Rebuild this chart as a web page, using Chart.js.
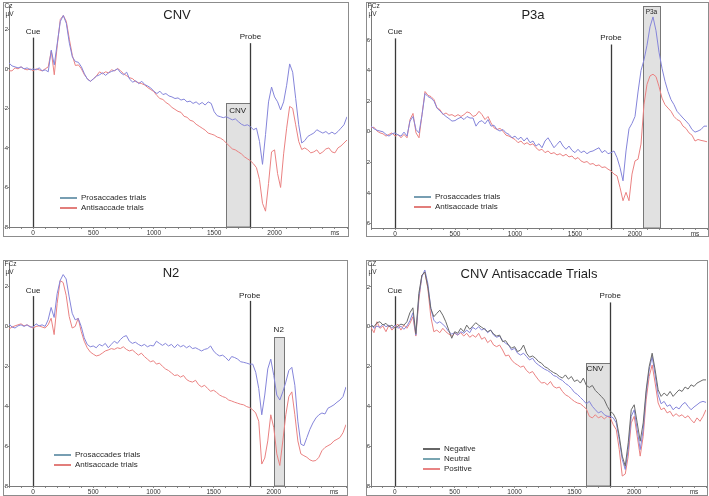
<!DOCTYPE html>
<html>
<head>
<meta charset="utf-8">
<script src="https://cdn.jsdelivr.net/npm/chart.js@4.4.1/dist/chart.umd.min.js"></script>
<style>
  body { margin: 0; background: #fff; width: 709px; height: 496px; position: relative; overflow: hidden; }
  canvas { position: absolute; }
</style>
</head>
<body>
<canvas id="cnvChart" width="346" height="235" style="left:3px;top:2px"></canvas>
<canvas id="p3aChart" width="343" height="235" style="left:366px;top:2px"></canvas>
<canvas id="n2Chart" width="345" height="236" style="left:3px;top:260px"></canvas>
<canvas id="antiChart" width="342" height="236" style="left:366px;top:260px"></canvas>
<script>
// time points (ms), shared by all four panels
const times = [
  -200, -175, -150, -125, -100, -75, -50, -25,
  0, 25, 50, 75, 100, 125, 150, 175,
  200, 225, 250, 275, 300, 325, 350, 375,
  400, 425, 450, 475, 500, 525, 550, 575,
  600, 625, 650, 675, 700, 725, 750, 775,
  800, 825, 850, 875, 900, 925, 950, 975,
  1000, 1025, 1050, 1075, 1100, 1125, 1150, 1175,
  1200, 1225, 1250, 1275, 1300, 1325, 1350, 1375,
  1400, 1425, 1450, 1475, 1500, 1525, 1550, 1575,
  1600, 1625, 1650, 1675, 1700, 1725, 1750, 1775,
  1800, 1825, 1850, 1875, 1900, 1925, 1950, 1975,
  2000, 2025, 2050, 2075, 2100, 2125, 2150, 2175,
  2200, 2225, 2250, 2275, 2300, 2325, 2350, 2375,
  2400, 2425, 2450, 2475, 2500, 2525, 2550, 2575,
  2600
];

// CNV panel (Cz)
const cnvPro = [
  0.3, 0.15, 0.1, 0.05, 0.1, 0.0, 0.05, -0.05,
  0.0, -0.05, 0.05, -0.1, -0.05, -0.15, 0.95, 0.2,
  1.3, 2.4, 2.7, 2.3, 1.3, 0.6, 0.37, 0.33,
  0.1, -0.25, -0.53, -0.63, -0.5, -0.37, -0.3, -0.2,
  -0.33, -0.2, -0.13, -0.08, 0.0, -0.2, -0.3, -0.17,
  -0.53, -0.67, -0.6, -0.75, -0.63, -0.8, -0.87, -0.97,
  -1.13, -1.25, -1.13, -1.3, -1.25, -1.37, -1.42, -1.5,
  -1.47, -1.58, -1.53, -1.67, -1.63, -1.75, -1.67, -1.8,
  -1.7, -1.83, -1.67, -1.75, -2.17, -2.37, -2.42, -2.47,
  -2.42, -2.5, -2.58, -2.53, -2.67, -2.8, -2.87, -2.83,
  -2.92, -3.08, -3.0, -3.67, -4.83, -3.33, -1.67, -0.92,
  -1.42, -1.67, -2.08, -1.67, -0.83, 0.25, -0.17, -1.5,
  -2.83, -3.75, -3.63, -3.42, -3.33, -3.25, -3.08, -3.17,
  -3.25, -3.17, -3.3, -3.2, -3.3, -3.17, -3.0, -2.83,
  -2.42
];
const cnvAnti = [
  -0.1, -0.1, 0.05, 0.0, 0.1, 0.0, -0.05, 0.0,
  -0.1, 0.0, -0.05, -0.1, 0.0, 0.1, 0.9, -0.3,
  1.2, 2.5, 2.7, 2.4, 1.5, 0.67, 0.17, 0.2,
  0.0, -0.3, -0.5, -0.63, -0.5, -0.35, -0.15, -0.25,
  -0.15, -0.2, -0.05, -0.1, 0.02, -0.1, -0.25, -0.35,
  -0.45, -0.5, -0.65, -0.7, -0.75, -0.82, -0.95, -1.05,
  -1.15, -1.35, -1.5, -1.55, -1.7, -1.8, -1.95, -2.05,
  -2.15, -2.2, -2.4, -2.45, -2.6, -2.65, -2.8, -2.9,
  -3.0, -3.1, -3.25, -3.3, -3.35, -3.45, -3.5, -3.6,
  -3.75, -3.9, -4.05, -4.1, -4.2, -4.3, -4.45, -4.55,
  -4.65, -4.8, -5.0, -5.6, -6.8, -7.2, -5.8, -4.2,
  -4.1, -5.3, -6.0, -4.3, -3.0, -1.9, -2.0, -2.83,
  -3.67, -4.08, -4.0, -4.1, -4.25, -4.2, -4.1, -4.3,
  -4.2, -4.05, -4.0, -4.2, -4.25, -4.0, -3.9, -3.75,
  -3.6
];

// P3a panel (PCz)
const p3aPro = [
  0.37, 0.2, 0.1, 0.05, 0.0, -0.17, -0.28, -0.13,
  -0.07, -0.2, -0.28, -0.02, -0.28, 0.7, 1.0, 0.15,
  -0.07, 1.1, 2.5, 2.3, 2.2, 2.0, 1.55, 1.35,
  1.17, 1.0, 0.86, 0.7, 0.73, 0.86, 0.95, 0.8,
  1.0, 0.9, 0.9, 0.37, 0.65, 0.73, 0.52, 0.8,
  0.37, 0.43, 0.15, 0.05, 0.15, -0.07, -0.17, -0.39,
  -0.28, -0.5, -0.35, -0.6, -0.39, -0.71, -0.6, -0.93,
  -0.78, -1.04, -0.6, -0.39, -0.71, -1.04, -0.82, -0.6,
  -0.93, -1.14, -0.93, -1.21, -1.36, -1.14, -1.36, -1.25,
  -1.43, -1.3, -1.25, -1.14, -1.04, -1.36, -1.21, -1.43,
  -1.36, -1.25, -1.68, -2.33, -3.2, -1.25, 0.2, 0.55,
  1.0, 2.6, 4.0, 4.7, 5.65, 6.85, 7.5, 6.6,
  5.2, 4.15, 3.3, 2.63, 2.1, 1.77, 1.34, 1.12,
  0.9, 0.7, 0.48, 0.15, -0.02, 0.05, 0.15, 0.37,
  0.37
];
const p3aAnti = [
  0.26, 0.3, 0.05, -0.07, -0.13, -0.28, -0.17, -0.07,
  -0.28, -0.17, -0.39, -0.17, -0.39, 0.8, 1.2, -0.07,
  -0.39, 1.12, 2.63, 2.38, 2.3, 2.1, 1.55, 1.45,
  1.12, 1.23, 1.08, 1.12, 1.0, 1.12, 1.0, 1.12,
  1.3, 1.23, 1.0, 1.08, 1.34, 1.12, 0.8, 1.0,
  0.58, 0.26, 0.15, 0.22, 0.04, -0.22, -0.28, -0.39,
  -0.5, -0.71, -0.6, -0.82, -0.71, -0.86, -0.78, -1.04,
  -1.21, -1.14, -1.36, -1.25, -1.43, -1.36, -1.51, -1.43,
  -1.58, -1.47, -1.64, -1.58, -1.79, -1.68, -1.9, -2.0,
  -1.94, -2.12, -2.07, -2.22, -2.16, -2.33, -2.29, -2.44,
  -2.55, -2.76, -2.87, -3.63, -4.5, -3.95, -4.5, -2.76,
  -1.9, -1.79, -0.8, 1.8, 3.1, 3.65, 3.76, 3.6,
  2.96, 2.2, 1.77, 1.55, 1.34, 1.0, 0.8, 0.7,
  0.37, 0.22, -0.07, -0.22, -0.6, -0.5, -0.56, -0.6,
  -0.65
];

// N2 panel (FCz)
const n2Pro = [
  0.13, -0.03, -0.08, 0.03, 0.08, 0.0, 0.08, -0.03,
  -0.03, 0.13, 0.03, 0.08, 0.0, 0.33, 0.95, 0.45,
  1.64, 2.3, 2.6, 2.38, 1.48, 0.66, 0.33, 0.4,
  0.0, -0.57, -0.9, -1.02, -0.98, -1.07, -0.9, -0.98,
  -0.85, -1.07, -0.9, -0.74, -0.85, -0.66, -0.52, -0.46,
  -0.74, -0.85, -0.79, -0.9, -0.98, -0.9, -1.02, -0.95,
  -0.98, -0.74, -0.85, -0.95, -0.85, -0.98, -0.9, -1.07,
  -0.9, -1.02, -0.95, -1.07, -0.98, -1.11, -1.07, -1.15,
  -1.23, -1.15, -1.11, -0.98, -1.23, -1.39, -1.48, -1.44,
  -1.56, -1.72, -1.51, -1.56, -1.64, -1.77, -1.8, -1.84,
  -1.89, -1.89, -2.3, -3.11, -4.43, -3.44, -2.13, -1.64,
  -2.46, -3.44, -3.69, -3.28, -2.79, -2.21, -2.05, -2.95,
  -4.75, -5.9, -5.98, -5.57, -5.16, -4.84, -4.59, -4.43,
  -4.34, -4.39, -4.1, -4.02, -3.93, -3.8, -3.69, -3.52,
  -3.03
];
const n2Anti = [
  -0.13, -0.03, 0.03, 0.08, 0.13, 0.03, 0.08, 0.0,
  -0.08, 0.0, 0.03, -0.03, -0.08, 0.08, 0.41, -0.41,
  1.15, 2.3, 2.2, 1.56, 0.5, -0.08, 0.0, 0.41,
  -0.25, -0.74, -1.07, -1.28, -1.39, -1.48, -1.44, -1.34,
  -1.23, -1.18, -1.11, -1.15, -1.07, -1.11, -1.02, -1.15,
  -1.23, -1.18, -1.31, -1.44, -1.34, -1.51, -1.64, -1.77,
  -1.72, -1.89, -1.84, -2.0, -2.13, -2.21, -2.33, -2.46,
  -2.43, -2.54, -2.46, -2.66, -2.75, -2.79, -2.7, -2.92,
  -3.03, -2.95, -3.11, -3.25, -3.2, -3.31, -3.44, -3.52,
  -3.57, -3.69, -3.74, -3.8, -3.85, -3.9, -3.93, -4.02,
  -4.07, -4.18, -4.34, -4.75, -6.9, -6.6, -5.74, -4.43,
  -5.08, -6.39, -6.97, -5.74, -4.43, -3.52, -3.28, -4.43,
  -5.74, -6.39, -6.48, -6.56, -6.69, -6.75, -6.72, -6.56,
  -6.23, -6.07, -5.98, -5.9, -5.74, -5.66, -5.57, -5.33,
  -4.92
];

// CNV antisaccade trials panel (Cz), by valence
const antiNegative = [
  0.08, 0.0, 0.2, 0.25, 0.08, 0.17, 0.0, 0.08,
  -0.08, 0.03, 0.13, 0.08, 0.25, 0.7, 0.95, -0.35,
  1.67, 2.58, 2.75, 2.0, 0.92, 0.5, 0.67, 0.83,
  0.58, 0.25, -0.17, -0.58, -0.25, -0.33, -0.08, -0.25,
  0.08, -0.13, 0.03, 0.2, 0.08, -0.03, -0.13, -0.25,
  -0.17, -0.37, -0.47, -0.42, -0.75, -0.7, -0.92, -1.08,
  -1.0, -1.25, -1.17, -0.92, -1.33, -1.53, -1.47, -1.58,
  -1.75, -1.83, -2.0, -2.08, -2.2, -2.3, -2.37, -2.5,
  -2.58, -2.42, -2.63, -2.5, -2.75, -2.67, -2.83, -2.58,
  -2.95, -3.05, -2.95, -3.2, -3.35, -3.5, -3.67, -4.0,
  -4.25, -4.37, -4.67, -5.5, -6.5, -7.0, -5.83, -4.17,
  -3.92, -4.83, -5.75, -4.83, -3.17, -2.0, -1.33, -2.17,
  -3.17, -3.5, -3.33, -3.47, -3.25, -3.5, -3.33, -3.17,
  -3.25, -3.03, -3.13, -2.92, -3.0, -2.83, -2.75, -2.67,
  -2.67
];
const antiNeutral = [
  0.13, -0.08, 0.03, -0.03, 0.13, 0.0, 0.08, -0.08,
  0.08, -0.08, 0.03, -0.13, 0.03, 0.3, 0.7, -0.42,
  1.5, 2.5, 2.85, 2.17, 0.92, 0.33, 0.17, 0.25,
  0.13, -0.03, -0.25, -0.37, -0.3, -0.42, -0.25, -0.33,
  -0.17, -0.3, -0.03, -0.13, 0.0, -0.17, -0.08, -0.3,
  -0.17, -0.42, -0.53, -0.47, -0.7, -0.83, -0.92, -1.17,
  -1.08, -1.33, -1.42, -1.33, -1.5, -1.67, -1.58, -1.8,
  -1.92, -2.03, -2.13, -2.2, -2.3, -2.45, -2.5, -2.62,
  -2.7, -2.85, -2.95, -3.1, -3.3, -3.4, -3.55, -3.7,
  -3.87, -3.75, -4.0, -4.17, -4.33, -4.25, -4.42, -4.5,
  -4.5, -4.58, -4.83, -5.67, -6.67, -7.17, -6.17, -4.5,
  -4.17, -5.17, -6.17, -5.17, -3.33, -2.17, -1.5, -2.42,
  -3.42, -3.87, -3.75, -4.0, -3.92, -4.17, -4.03, -4.13,
  -3.92, -3.8, -4.0, -4.17, -4.03, -3.92, -3.8, -3.75,
  -3.8
];
const antiPositive = [
  -0.03, -0.3, 0.25, -0.08, 0.03, -0.25, 0.08, -0.17,
  0.0, 0.13, -0.17, 0.08, -0.08, 0.17, 0.5, -0.47,
  1.33, 2.58, 2.75, 1.92, 0.5, -0.25, -0.17, -0.3,
  -0.08, -0.25, -0.37, -0.47, -0.33, -0.42, -0.3, -0.47,
  -0.33, -0.53, -0.42, -0.53, -0.33, -0.63, -0.53, -0.8,
  -0.67, -0.92, -1.0, -0.92, -1.17, -1.47, -1.42, -1.67,
  -1.83, -1.92, -2.03, -1.97, -2.2, -2.33, -2.25, -2.47,
  -2.67, -2.83, -2.8, -2.92, -2.75, -3.0, -3.08, -3.03,
  -3.25, -3.42, -3.5, -3.63, -3.75, -3.83, -3.87, -4.0,
  -4.13, -4.5, -4.58, -4.42, -4.58, -4.5, -4.63, -4.5,
  -4.58, -4.92, -5.17, -6.17, -7.5, -7.4, -6.5, -4.83,
  -4.5, -5.5, -6.5, -5.5, -3.67, -2.5, -1.92, -2.83,
  -3.83, -4.17, -4.08, -4.33, -4.25, -4.5, -4.37, -4.5,
  -4.42, -4.58, -4.47, -4.67, -4.83, -4.58, -4.75, -4.5,
  -4.17
];

const FONT = '"Liberation Sans", Arial, sans-serif';
const BLUE = '#8585da';
const RED = '#ea8282';
const GRAY = '#6a6a6a';

/**
 * Draws the frame, Cue/Probe markers, the shaded window, title and in-plot legend
 */
const erpDecor = {
  id: 'erpDecor',
  beforeDatasetsDraw(chart, args, o) {
    const ctx = chart.ctx;
    const xs = chart.scales.x, ys = chart.scales.y;
    const area = chart.chartArea;
    ctx.save();
    if (o.box) {
      const x0 = Math.round(xs.getPixelForValue(o.box.from)) + 0.5;
      const x1 = Math.round(xs.getPixelForValue(o.box.to)) + 0.5;
      const yt = Math.round(o.box.top == null ? area.top : ys.getPixelForValue(o.box.top)) + 0.5;
      ctx.fillStyle = '#e1e1e1';
      ctx.fillRect(x0, yt, x1 - x0, area.bottom - yt);
      ctx.strokeStyle = '#777';
      ctx.lineWidth = 1;
      ctx.strokeRect(x0, yt, x1 - x0, area.bottom - yt);
    }
    // Cue and Probe markers
    ctx.strokeStyle = '#3a3a3a';
    ctx.lineWidth = 1.3;
    [o.cue, o.probe].forEach(m => {
      const x = Math.round(xs.getPixelForValue(m.at)) + 0.5;
      ctx.beginPath();
      ctx.moveTo(x, area.bottom);
      ctx.lineTo(x, ys.getPixelForValue(m.top));
      ctx.stroke();
    });
    ctx.restore();
  },
  afterDraw(chart, args, o) {
    const ctx = chart.ctx;
    const xs = chart.scales.x, ys = chart.scales.y;
    ctx.save();
    // frame
    ctx.strokeStyle = '#8c8c8c';
    ctx.lineWidth = 1;
    ctx.strokeRect(0.5, 0.5, chart.width - 1, chart.height - 1);

    ctx.textBaseline = 'middle';
    ctx.fillStyle = '#1e1e1e';
    ctx.textAlign = 'center';
    ctx.font = '13px ' + FONT;
    ctx.fillText(o.title, o.titleX, o.titleY);

    // channel and unit
    ctx.textAlign = 'left';
    ctx.font = '6.5px ' + FONT;
    ctx.fillStyle = '#333';
    ctx.fillText(o.channel, 1.5, 4.5);
    ctx.fillText('\u00b5V', 2.5, 12);

    // marker labels
    ctx.textAlign = 'center';
    ctx.font = '8px ' + FONT;
    ctx.fillStyle = '#222';
    ctx.fillText('Cue', xs.getPixelForValue(o.cue.at), ys.getPixelForValue(o.cue.label));
    ctx.fillText('Probe', xs.getPixelForValue(o.probe.at), ys.getPixelForValue(o.probe.label));
    if (o.box) {
      ctx.font = (o.box.fontSize || 8) + 'px ' + FONT;
      ctx.fillText(o.box.text, xs.getPixelForValue(o.box.textX), ys.getPixelForValue(o.box.textY));
    }

    // legend
    ctx.textAlign = 'left';
    ctx.font = '8px ' + FONT;
    o.legend.items.forEach((item, i) => {
      const y = o.legend.y + i * 10;
      ctx.strokeStyle = item.color;
      ctx.lineWidth = 1.5;
      ctx.beginPath();
      ctx.moveTo(o.legend.x, y);
      ctx.lineTo(o.legend.x + 17, y);
      ctx.stroke();
      ctx.fillStyle = '#2a2a2a';
      ctx.fillText(item.text, o.legend.x + 21, y);
    });
    ctx.restore();
  }
};

function makeChart(id, series, frame, yRange, decor) {
  const ctx = document.getElementById(id);
  return new Chart(ctx, {
    type: 'line',
    data: {
      datasets: series.map(s => ({
        label: s.label,
        data: times.map((t, i) => ({ x: t, y: s.values[i] })),
        borderColor: s.color,
        borderWidth: 1,
        pointRadius: 0,
        tension: 0
      }))
    },
    options: {
      responsive: false,
      animation: false,
      events: [],
      layout: { padding: { top: frame.top, right: frame.right, left: 0, bottom: 0 } },
      plugins: { legend: { display: false }, tooltip: { enabled: false }, erpDecor: decor },
      scales: {
        x: {
          type: 'linear',
          min: -200,
          max: 2600,
          afterFit: scale => { scale.height = frame.bottom; },
          border: { color: '#7a7a7a' },
          grid: { drawOnChartArea: false, tickLength: 2, color: '#8a8a8a' },
          ticks: {
            stepSize: 100,
            maxTicksLimit: 100,
            autoSkip: false,
            maxRotation: 0,
            padding: 0,
            color: '#333',
            font: { size: 6.5, family: FONT },
            callback: v => v === 2500 ? 'ms' : (v % 500 === 0 && v >= 0 && v <= 2000 ? String(v) : '')
          }
        },
        y: {
          min: yRange.min,
          max: yRange.max,
          afterFit: scale => { scale.width = frame.left; },
          border: { color: '#7a7a7a' },
          grid: { drawOnChartArea: false, tickLength: 1, color: '#8a8a8a' },
          ticks: {
            stepSize: 2,
            includeBounds: false,
            padding: 0,
            color: '#333',
            font: { size: 6, family: FONT },
            callback: v => v > yRange.lastTick ? '' : String(v)
          }
        }
      }
    },
    plugins: [erpDecor]
  });
}

makeChart('cnvChart',
  [{ label: 'Prosaccades trials', values: cnvPro, color: BLUE },
   { label: 'Antisaccade trials', values: cnvAnti, color: RED }],
  { left: 6, top: 1, right: 2, bottom: 10 },
  { min: -8, max: 3.2, lastTick: 2 },
  {
    title: 'CNV', titleX: 174, titleY: 13, channel: 'Cz',
    cue: { at: 0, top: 1.58, label: 1.85 },
    probe: { at: 1800, top: 1.3, label: 1.6 },
    box: { from: 1600, to: 1800, top: -1.75, text: 'CNV', textX: 1695, textY: -2.12 },
    legend: { x: 57, y: 196, items: [{ text: 'Prosaccades trials', color: '#4a7e98' }, { text: 'Antisaccade trials', color: '#d9534f' }] }
  });

makeChart('p3aChart',
  [{ label: 'Prosaccades trials', values: p3aPro, color: BLUE },
   { label: 'Antisaccade trials', values: p3aAnti, color: RED }],
  { left: 5, top: 1, right: 2, bottom: 9 },
  { min: -6.28, max: 8.24, lastTick: 6 },
  {
    title: 'P3a', titleX: 167, titleY: 13, channel: 'PCz',
    cue: { at: 0, top: 6.1, label: 6.5 },
    probe: { at: 1800, top: 5.7, label: 6.15 },
    box: { from: 2069, to: 2205, top: null, text: 'P3a', textX: 2137, textY: 7.82, fontSize: 6.5 },
    legend: { x: 48, y: 195, items: [{ text: 'Prosaccades trials', color: '#4a7e98' }, { text: 'Antisaccade trials', color: '#d9534f' }] }
  });

makeChart('n2Chart',
  [{ label: 'Prosaccades trials', values: n2Pro, color: BLUE },
   { label: 'Antisaccade trials', values: n2Anti, color: RED }],
  { left: 6, top: 1, right: 2, bottom: 10 },
  { min: -8, max: 3.15, lastTick: 2 },
  {
    title: 'N2', titleX: 168, titleY: 13, channel: 'FCz',
    cue: { at: 0, top: 1.52, label: 1.77 },
    probe: { at: 1800, top: 1.28, label: 1.52 },
    box: { from: 2000, to: 2083, top: -0.52, text: 'N2', textX: 2041, textY: -0.15 },
    legend: { x: 51, y: 195, items: [{ text: 'Prosaccades trials', color: '#4a7e98' }, { text: 'Antisaccade trials', color: '#d9534f' }] }
  });

makeChart('antiChart',
  [{ label: 'Negative', values: antiNegative, color: GRAY },
   { label: 'Neutral', values: antiNeutral, color: BLUE },
   { label: 'Positive', values: antiPositive, color: RED }],
  { left: 5, top: 1, right: 2, bottom: 10 },
  { min: -8, max: 3.17, lastTick: 2 },
  {
    title: 'CNV Antisaccade Trials', titleX: 163, titleY: 14, channel: 'CZ',
    cue: { at: 0, top: 1.53, label: 1.8 },
    probe: { at: 1800, top: 1.22, label: 1.55 },
    box: { from: 1600, to: 1800, top: -1.8, text: 'CNV', textX: 1672, textY: -2.13 },
    legend: { x: 57, y: 189, items: [{ text: 'Negative', color: '#333333' }, { text: 'Neutral', color: '#4d8797' }, { text: 'Positive', color: '#e05a5a' }] }
  });
</script>
</body>
</html>
